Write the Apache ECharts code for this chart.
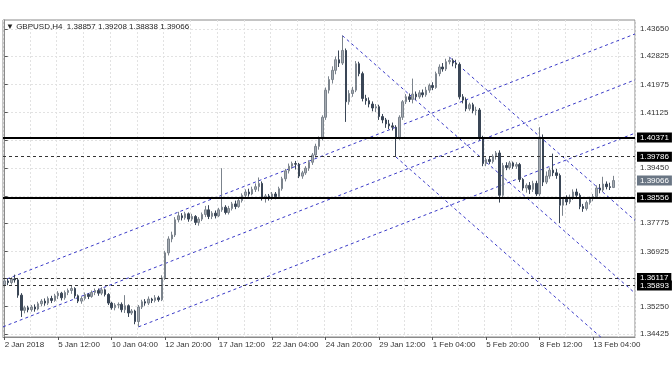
<!DOCTYPE html>
<html><head><meta charset="utf-8">
<script src="https://cdn.jsdelivr.net/npm/echarts@6/dist/echarts.min.js"></script>
<style>html,body{margin:0;padding:0;background:#fff}#c{width:672px;height:372px}</style>
</head><body><div id="c"></div>
<script>
// ---- data ----
const symbolTitle = 'GBPUSD,H4  1.38857 1.39208 1.38838 1.39066';
const tickLabels = ['2 Jan 2018','5 Jan 12:00','10 Jan 04:00','12 Jan 20:00','17 Jan 12:00','22 Jan 04:00','24 Jan 20:00','29 Jan 12:00','1 Feb 04:00','5 Feb 20:00','8 Feb 12:00','13 Feb 04:00'];
const barsPerTick = 16;
const emptySlots = 6;
const priceTicks = [1.34425,1.35250,1.36100,1.36925,1.37775,1.38600,1.39450,1.40300,1.41125,1.41975,1.42825,1.43650];
// candles: [open, close, low, high]
const candles = [
[1.3592,1.3603,1.3586,1.3608],[1.3603,1.3598,1.3590,1.3610],[1.3598,1.3609,1.3592,1.3614],[1.3609,1.3606,1.3598,1.3622],
[1.3606,1.3560,1.3552,1.3612],[1.3560,1.3514,1.3494,1.3566],[1.3514,1.3522,1.3505,1.3528],[1.3522,1.3516,1.3508,1.3528],
[1.3516,1.3524,1.3510,1.3530],[1.3524,1.3518,1.3510,1.3532],[1.3518,1.3534,1.3514,1.3540],[1.3534,1.3542,1.3526,1.3548],
[1.3542,1.3536,1.3528,1.3550],[1.3536,1.3550,1.3530,1.3556],[1.3550,1.3544,1.3536,1.3558],[1.3544,1.3558,1.3540,1.3564],
[1.3558,1.3566,1.3548,1.3572],[1.3566,1.3552,1.3544,1.3570],[1.3552,1.3568,1.3546,1.3574],[1.3568,1.3574,1.3560,1.3580],
[1.3574,1.3580,1.3564,1.3590],[1.3580,1.3558,1.3550,1.3584],[1.3558,1.3542,1.3536,1.3562],[1.3542,1.3550,1.3534,1.3556],
[1.3550,1.3562,1.3544,1.3568],[1.3562,1.3556,1.3548,1.3566],[1.3556,1.3568,1.3552,1.3574],[1.3568,1.3574,1.3560,1.3580],
[1.3574,1.3566,1.3558,1.3580],[1.3566,1.3576,1.3560,1.3584],[1.3576,1.3562,1.3556,1.3580],[1.3562,1.3536,1.3530,1.3566],
[1.3536,1.3522,1.3516,1.3540],[1.3522,1.3530,1.3514,1.3536],[1.3530,1.3532,1.3520,1.3538],[1.3532,1.3516,1.3508,1.3538],
[1.3516,1.3528,1.3506,1.3560],[1.3528,1.3506,1.3494,1.3532],[1.3506,1.3512,1.3500,1.3518],[1.3512,1.3480,1.3472,1.3516],
[1.3480,1.3524,1.3464,1.3530],[1.3524,1.3540,1.3518,1.3546],[1.3540,1.3536,1.3528,1.3548],[1.3536,1.3548,1.3530,1.3556],
[1.3548,1.3544,1.3536,1.3552],[1.3544,1.3552,1.3538,1.3560],[1.3552,1.3546,1.3540,1.3558],[1.3546,1.3612,1.3542,1.3620],
[1.3612,1.3688,1.3606,1.3694],[1.3688,1.3730,1.3680,1.3738],[1.3730,1.3742,1.3720,1.3752],[1.3742,1.3788,1.3736,1.3796],
[1.3788,1.3800,1.3780,1.3812],[1.3800,1.3794,1.3786,1.3808],[1.3794,1.3806,1.3788,1.3812],[1.3806,1.3790,1.3782,1.3810],
[1.3790,1.3798,1.3784,1.3806],[1.3798,1.3780,1.3772,1.3802],[1.3780,1.3790,1.3770,1.3796],[1.3790,1.3804,1.3784,1.3810],
[1.3804,1.3818,1.3796,1.3830],[1.3818,1.3798,1.3790,1.3832],[1.3798,1.3808,1.3790,1.3814],[1.3808,1.3800,1.3792,1.3816],
[1.3800,1.3818,1.3796,1.3824],[1.3818,1.3826,1.3812,1.3944],[1.3826,1.3810,1.3804,1.3832],[1.3810,1.3822,1.3804,1.3830],
[1.3822,1.3836,1.3816,1.3842],[1.3836,1.3828,1.3820,1.3846],[1.3828,1.3846,1.3824,1.3856],[1.3846,1.3862,1.3840,1.3868],
[1.3862,1.3872,1.3852,1.3880],[1.3872,1.3866,1.3858,1.3882],[1.3866,1.3880,1.3862,1.3888],[1.3880,1.3888,1.3872,1.3898],
[1.3888,1.3898,1.3874,1.3916],[1.3898,1.3852,1.3846,1.3904],[1.3852,1.3860,1.3840,1.3866],[1.3860,1.3854,1.3846,1.3866],
[1.3854,1.3866,1.3848,1.3872],[1.3866,1.3858,1.3850,1.3872],[1.3858,1.3882,1.3852,1.3888],[1.3882,1.3912,1.3876,1.3918],
[1.3912,1.3936,1.3904,1.3942],[1.3936,1.3950,1.3928,1.3958],[1.3950,1.3958,1.3942,1.3964],[1.3958,1.3956,1.3940,1.3966],
[1.3956,1.3920,1.3914,1.3960],[1.3920,1.3930,1.3912,1.3936],[1.3930,1.3944,1.3924,1.3950],[1.3944,1.3962,1.3936,1.3968],
[1.3962,1.3984,1.3954,1.3990],[1.3984,1.4010,1.3976,1.4018],[1.4010,1.4034,1.4000,1.4040],[1.4034,1.4098,1.4028,1.4104],
[1.4098,1.4180,1.4090,1.4188],[1.4180,1.4212,1.4170,1.4222],[1.4212,1.4240,1.4200,1.4252],[1.4240,1.4272,1.4228,1.4282],
[1.4272,1.4262,1.4250,1.4300],[1.4262,1.4300,1.4256,1.4345],[1.4300,1.4145,1.4084,1.4306],[1.4145,1.4170,1.4136,1.4180],
[1.4170,1.4180,1.4160,1.4190],[1.4180,1.4260,1.4174,1.4268],[1.4260,1.4230,1.4222,1.4266],[1.4230,1.4155,1.4146,1.4236],
[1.4155,1.4148,1.4136,1.4166],[1.4148,1.4138,1.4128,1.4158],[1.4138,1.4126,1.4116,1.4146],[1.4126,1.4130,1.4114,1.4138],
[1.4130,1.4100,1.4090,1.4136],[1.4100,1.4090,1.4080,1.4108],[1.4090,1.4078,1.4066,1.4096],[1.4078,1.4072,1.4062,1.4090],
[1.4072,1.4068,1.4058,1.4082],[1.4068,1.4036,1.3978,1.4074],[1.4036,1.4098,1.4030,1.4104],[1.4098,1.4145,1.4090,1.4150],
[1.4145,1.4160,1.4138,1.4168],[1.4160,1.4152,1.4144,1.4170],[1.4152,1.4168,1.4140,1.4215],[1.4168,1.4160,1.4150,1.4176],
[1.4160,1.4172,1.4154,1.4180],[1.4172,1.4166,1.4158,1.4182],[1.4166,1.4180,1.4160,1.4190],[1.4180,1.4194,1.4172,1.4200],
[1.4194,1.4188,1.4180,1.4204],[1.4188,1.4230,1.4184,1.4236],[1.4230,1.4250,1.4222,1.4258],[1.4250,1.4244,1.4236,1.4262],
[1.4244,1.4266,1.4238,1.4275],[1.4266,1.4270,1.4258,1.4280],[1.4270,1.4262,1.4252,1.4276],[1.4262,1.4258,1.4246,1.4272],
[1.4258,1.4160,1.4152,1.4264],[1.4160,1.4150,1.4140,1.4168],[1.4150,1.4124,1.4116,1.4158],[1.4124,1.4136,1.4118,1.4142],
[1.4136,1.4118,1.4110,1.4142],[1.4118,1.4120,1.4104,1.4130],[1.4120,1.4036,1.4028,1.4126],[1.4036,1.3958,1.3950,1.4042],
[1.3958,1.3970,1.3950,1.3976],[1.3970,1.3964,1.3956,1.3980],[1.3964,1.3980,1.3958,1.3986],[1.3980,1.3990,1.3970,1.3996],
[1.3990,1.3862,1.3840,1.3998],[1.3862,1.3952,1.3854,1.3960],[1.3952,1.3946,1.3938,1.3962],[1.3946,1.3960,1.3940,1.3966],
[1.3960,1.3950,1.3942,1.3964],[1.3950,1.3955,1.3942,1.3962],[1.3955,1.3910,1.3902,1.3960],[1.3910,1.3884,1.3876,1.3914],
[1.3884,1.3892,1.3870,1.3898],[1.3892,1.3880,1.3866,1.3902],[1.3880,1.3898,1.3872,1.3906],[1.3898,1.3866,1.3860,1.3906],
[1.3866,1.4034,1.3860,1.4068],[1.4034,1.3902,1.3890,1.4046],[1.3902,1.3920,1.3896,1.3934],[1.3920,1.3938,1.3912,1.3946],
[1.3938,1.3930,1.3920,1.3988],[1.3930,1.3922,1.3912,1.3942],[1.3922,1.3832,1.3778,1.3928],[1.3832,1.3850,1.3800,1.3856],
[1.3850,1.3842,1.3832,1.3862],[1.3842,1.3856,1.3836,1.3864],[1.3856,1.3872,1.3848,1.3880],[1.3872,1.3862,1.3852,1.3882],
[1.3862,1.3828,1.3820,1.3868],[1.3828,1.3822,1.3812,1.3836],[1.3822,1.3840,1.3816,1.3846],[1.3840,1.3852,1.3834,1.3858],
[1.3852,1.3858,1.3844,1.3866],[1.3858,1.3884,1.3852,1.3892],[1.3884,1.3878,1.3868,1.3896],[1.3878,1.3896,1.3872,1.3918],
[1.3896,1.3888,1.3880,1.3904],[1.3888,1.38857,1.3878,1.3900],[1.38857,1.39066,1.38838,1.39208]
];
// horizontal levels drawn on the chart
const levelValues = [1.40371, 1.39786, 1.38556, 1.36117, 1.35893];
const levelStyles = ['solid', 'dashed', 'solid', 'dashed', 'dashed'];
const currentPrice = 1.39066;
// trend lines: [startBar, startPrice, endBar, endPrice]
const trendA = [0.7, 1.3609, 188.5, 1.4350];
const trendB = [-0.5, 1.3464, 188.5, 1.4211];
const trendC = [40, 1.3464, 188.5, 1.4050];
const trendD = [101, 1.4345, 188.5, 1.3566];
const trendE = [133, 1.4280, 188.5, 1.3786];
const trendF = [117, 1.3978, 188.5, 1.3342];

// ---- chart ----
const FONT = 'Liberation Sans';
const totalSlots = candles.length + emptySlots;
const categories = [];
for (let i = 0; i < totalSlots; i++) categories.push(String(i));

const trendSeries = [trendA, trendB, trendC, trendD, trendE, trendF].map(t => ({
  type: 'line', xAxisIndex: 1, yAxisIndex: 0, clip: true, symbol: 'none', silent: true,
  data: [[t[0], t[1]], [t[2], t[3]]],
  lineStyle: { color: '#3a3ac8', width: 1, type: [3, 3] }, z: 3
}));

const markData = levelValues.map((v, k) => ({
  yAxis: v,
  lineStyle: levelStyles[k] === 'solid' ? { color: '#000', width: 2, type: 'solid' } : { color: '#333', width: 1, type: [3, 3] },
  label: { backgroundColor: '#000', color: '#fff' }
}));
markData.push({ yAxis: currentPrice, lineStyle: { color: 'rgba(0,0,0,0)', width: 1, type: 'solid' }, label: { backgroundColor: '#6a7684', color: '#fff' } });

const chart = echarts.init(document.getElementById('c'), null, { renderer: 'canvas' });
chart.setOption({
  animation: false,
  backgroundColor: '#fff',
  title: {
    text: '▼ ' + symbolTitle, left: 6, top: 23, padding: 0,
    textStyle: { fontFamily: FONT, fontSize: 8, fontWeight: 'normal', color: '#222' }
  },
  grid: { left: 3, right: 37, top: 20, bottom: 35, show: true, borderColor: '#8a8a8a', borderWidth: 1, backgroundColor: 'transparent' },
  xAxis: [{
    type: 'category', data: categories, boundaryGap: true,
    axisLine: { show: true, lineStyle: { color: '#8a8a8a' } },
    axisTick: { show: true, alignWithLabel: true, length: 3, interval: (i) => i % barsPerTick === 0, lineStyle: { color: '#555' } },
    axisLabel: {
      interval: (i) => i % barsPerTick === 0, align: 'left', margin: 4,
      fontFamily: FONT, fontSize: 8, color: '#333',
      formatter: (v, i) => tickLabels[i / barsPerTick] || ''
    },
    splitLine: { show: true, interval: (i) => i % (barsPerTick / 2) === 0, lineStyle: { color: '#e2e2e2', type: [2, 2] } }
  }, {
    type: 'value', min: -0.5, max: totalSlots - 0.5, show: false
  }],
  yAxis: [{
    type: 'value', position: 'right', min: 1.34334, max: 1.43922, scale: true,
    axisLine: { show: true, lineStyle: { color: '#8a8a8a' } },
    axisTick: { show: true, length: 3, customValues: priceTicks, lineStyle: { color: '#555' } },
    axisLabel: { customValues: priceTicks, margin: 5, fontFamily: FONT, fontSize: 8, color: '#333', formatter: v => v.toFixed(5) },
    splitLine: { show: true, lineStyle: { color: '#e2e2e2', type: [2, 2] } }
  }],
  series: [{
    type: 'candlestick', xAxisIndex: 0, yAxisIndex: 0, data: candles, barWidth: 2,
    itemStyle: { color: '#a6acb3', color0: '#3a4656', borderColor: '#7b838c', borderColor0: '#3a4656', borderWidth: 1 },
    markLine: {
      symbol: 'none', silent: true, animation: false, precision: 5,
      label: { show: true, position: 'end', distance: 2, fontFamily: FONT, fontSize: 8, padding: [1, 3, 1, 3], formatter: p => Number(p.value).toFixed(5) },
      data: markData
    },
    z: 4
  }].concat(trendSeries)
});
</script></body></html>
